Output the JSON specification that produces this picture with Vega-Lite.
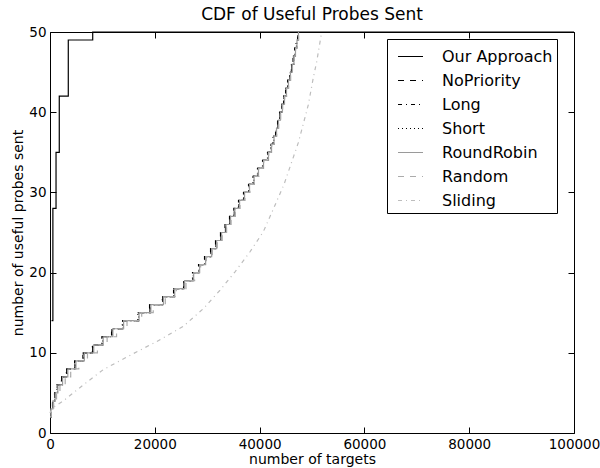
{
  "$schema": "https://vega.github.io/schema/vega-lite/v6.json",
  "width": 524,
  "height": 401,
  "autosize": {"type": "none"},
  "padding": {"left": 50, "top": 32, "right": 26, "bottom": 35},
  "background": "white",
  "title": {"text": "CDF of Useful Probes Sent", "fontSize": 17, "font": "DejaVu Sans", "fontWeight": "normal", "color": "black", "offset": 1, "anchor": "middle"},
  "config": {
    "view": {"stroke": "black", "strokeWidth": 1},
    "axis": {"domain": false, "grid": false, "tickColor": "black", "tickSize": -6, "tickWidth": 1, "labelPadding": 10, "labelFont": "DejaVu Sans", "labelFontSize": 13.5, "labelColor": "black", "titleFont": "DejaVu Sans", "titleFontSize": 14, "titleFontWeight": "normal", "titleColor": "black", "labelFlush": false, "labelOverlap": false, "labelBound": false},
    "legend": {"orient": "none", "legendX": 337, "legendY": 7, "fillColor": "white", "strokeColor": "black", "padding": 4, "cornerRadius": 0, "symbolType": "stroke", "symbolSize": 625, "symbolStrokeWidth": 1.2, "labelFont": "DejaVu Sans", "labelFontSize": 16, "labelColor": "black", "rowPadding": 2, "labelOffset": 18, "symbolOffset": 6, "labelLimit": 300}
  },
  "datasets": {
    "cluster": [
      {"level": 2, "NoPriority": 0, "Long": 0, "Short": 0, "RoundRobin": 0, "Random": 0},
      {"level": 3, "NoPriority": 190, "Long": 190, "Short": 190, "RoundRobin": 190, "Random": 250},
      {"level": 4, "NoPriority": 515, "Long": 480, "Short": 540, "RoundRobin": 560, "Random": 700},
      {"level": 5, "NoPriority": 900, "Long": 870, "Short": 930, "RoundRobin": 980, "Random": 1250},
      {"level": 6, "NoPriority": 1390, "Long": 1350, "Short": 1430, "RoundRobin": 1500, "Random": 1900},
      {"level": 7, "NoPriority": 2230, "Long": 2180, "Short": 2280, "RoundRobin": 2400, "Random": 2900},
      {"level": 8, "NoPriority": 3190, "Long": 3120, "Short": 3250, "RoundRobin": 3400, "Random": 3950},
      {"level": 9, "NoPriority": 4770, "Long": 4700, "Short": 4830, "RoundRobin": 4950, "Random": 5500},
      {"level": 10, "NoPriority": 6350, "Long": 6280, "Short": 6420, "RoundRobin": 6550, "Random": 7150},
      {"level": 11, "NoPriority": 8150, "Long": 8080, "Short": 8220, "RoundRobin": 8350, "Random": 9050},
      {"level": 12, "NoPriority": 9980, "Long": 9900, "Short": 10050, "RoundRobin": 10150, "Random": 10900},
      {"level": 13, "NoPriority": 11830, "Long": 11750, "Short": 11900, "RoundRobin": 12000, "Random": 12700},
      {"level": 14, "NoPriority": 13870, "Long": 13800, "Short": 13950, "RoundRobin": 14050, "Random": 14700},
      {"level": 15, "NoPriority": 16850, "Long": 16780, "Short": 16920, "RoundRobin": 17000, "Random": 17500},
      {"level": 16, "NoPriority": 19080, "Long": 19000, "Short": 19150, "RoundRobin": 19250, "Random": 19700},
      {"level": 17, "NoPriority": 21510, "Long": 21430, "Short": 21580, "RoundRobin": 21650, "Random": 22000},
      {"level": 18, "NoPriority": 23660, "Long": 23580, "Short": 23730, "RoundRobin": 23800, "Random": 24100},
      {"level": 19, "NoPriority": 25570, "Long": 25490, "Short": 25640, "RoundRobin": 25700, "Random": 25950},
      {"level": 20, "NoPriority": 27290, "Long": 27200, "Short": 27360, "RoundRobin": 27420, "Random": 27600},
      {"level": 21, "NoPriority": 28440, "Long": 28350, "Short": 28510, "RoundRobin": 28560, "Random": 28750},
      {"level": 22, "NoPriority": 29580, "Long": 29490, "Short": 29650, "RoundRobin": 29700, "Random": 29850},
      {"level": 23, "NoPriority": 30730, "Long": 30640, "Short": 30800, "RoundRobin": 30850, "Random": 30980},
      {"level": 24, "NoPriority": 31680, "Long": 31590, "Short": 31750, "RoundRobin": 31800, "Random": 31920},
      {"level": 25, "NoPriority": 32630, "Long": 32540, "Short": 32700, "RoundRobin": 32750, "Random": 32860},
      {"level": 26, "NoPriority": 33490, "Long": 33400, "Short": 33560, "RoundRobin": 33600, "Random": 33700},
      {"level": 27, "NoPriority": 34350, "Long": 34260, "Short": 34420, "RoundRobin": 34460, "Random": 34550},
      {"level": 28, "NoPriority": 35170, "Long": 35080, "Short": 35240, "RoundRobin": 35280, "Random": 35370},
      {"level": 29, "NoPriority": 36070, "Long": 35980, "Short": 36140, "RoundRobin": 36180, "Random": 36260},
      {"level": 30, "NoPriority": 37020, "Long": 36930, "Short": 37090, "RoundRobin": 37130, "Random": 37200},
      {"level": 31, "NoPriority": 37980, "Long": 37890, "Short": 38050, "RoundRobin": 38080, "Random": 38150},
      {"level": 32, "NoPriority": 38840, "Long": 38750, "Short": 38910, "RoundRobin": 38940, "Random": 39000},
      {"level": 33, "NoPriority": 39690, "Long": 39600, "Short": 39760, "RoundRobin": 39790, "Random": 39850},
      {"level": 34, "NoPriority": 40650, "Long": 40560, "Short": 40720, "RoundRobin": 40750, "Random": 40800},
      {"level": 35, "NoPriority": 41600, "Long": 41510, "Short": 41670, "RoundRobin": 41700, "Random": 41750},
      {"level": 36, "NoPriority": 42180, "Long": 42100, "Short": 42250, "RoundRobin": 42280, "Random": 42320},
      {"level": 37, "NoPriority": 42650, "Long": 42570, "Short": 42720, "RoundRobin": 42750, "Random": 42790},
      {"level": 38, "NoPriority": 43130, "Long": 43050, "Short": 43200, "RoundRobin": 43230, "Random": 43260},
      {"level": 39, "NoPriority": 43510, "Long": 43430, "Short": 43580, "RoundRobin": 43600, "Random": 43640},
      {"level": 40, "NoPriority": 43890, "Long": 43810, "Short": 43960, "RoundRobin": 43980, "Random": 44020},
      {"level": 41, "NoPriority": 44270, "Long": 44190, "Short": 44340, "RoundRobin": 44360, "Random": 44400},
      {"level": 42, "NoPriority": 44660, "Long": 44580, "Short": 44730, "RoundRobin": 44750, "Random": 44780},
      {"level": 43, "NoPriority": 45040, "Long": 44960, "Short": 45110, "RoundRobin": 45130, "Random": 45160},
      {"level": 44, "NoPriority": 45420, "Long": 45340, "Short": 45490, "RoundRobin": 45510, "Random": 45540},
      {"level": 45, "NoPriority": 45800, "Long": 45720, "Short": 45870, "RoundRobin": 45890, "Random": 45920},
      {"level": 46, "NoPriority": 46150, "Long": 46070, "Short": 46220, "RoundRobin": 46240, "Random": 46270},
      {"level": 47, "NoPriority": 46470, "Long": 46390, "Short": 46540, "RoundRobin": 46560, "Random": 46590},
      {"level": 48, "NoPriority": 46760, "Long": 46680, "Short": 46830, "RoundRobin": 46850, "Random": 46880},
      {"level": 49, "NoPriority": 47040, "Long": 46960, "Short": 47110, "RoundRobin": 47130, "Random": 47160},
      {"level": 50, "NoPriority": 47330, "Long": 47250, "Short": 47400, "RoundRobin": 47420, "Random": 47450}
    ],
    "ours": [
      {"series": "Our Approach", "targets": 300, "level": 14},
      {"series": "Our Approach", "targets": 550, "level": 28},
      {"series": "Our Approach", "targets": 1150, "level": 35},
      {"series": "Our Approach", "targets": 1770, "level": 42},
      {"series": "Our Approach", "targets": 3490, "level": 49},
      {"series": "Our Approach", "targets": 8150, "level": 50},
      {"series": "Our Approach", "targets": 100000, "level": 50}
    ],
    "sliding": [
      {"series": "Sliding", "targets": 0, "level": 2.5},
      {"series": "Sliding", "targets": 380, "level": 3.1},
      {"series": "Sliding", "targets": 2540, "level": 4.0},
      {"series": "Sliding", "targets": 6350, "level": 6.0},
      {"series": "Sliding", "targets": 10170, "level": 7.9},
      {"series": "Sliding", "targets": 15900, "level": 9.9},
      {"series": "Sliding", "targets": 20360, "level": 11.4},
      {"series": "Sliding", "targets": 25440, "level": 13.3},
      {"series": "Sliding", "targets": 29260, "level": 15.5},
      {"series": "Sliding", "targets": 32440, "level": 17.8},
      {"series": "Sliding", "targets": 35310, "level": 20.1},
      {"series": "Sliding", "targets": 38170, "level": 22.6},
      {"series": "Sliding", "targets": 40710, "level": 25.1},
      {"series": "Sliding", "targets": 42940, "level": 28.4},
      {"series": "Sliding", "targets": 44660, "level": 31.0},
      {"series": "Sliding", "targets": 47390, "level": 36.2},
      {"series": "Sliding", "targets": 49290, "level": 40.9},
      {"series": "Sliding", "targets": 50250, "level": 44.3},
      {"series": "Sliding", "targets": 50900, "level": 46.3},
      {"series": "Sliding", "targets": 51850, "level": 50}
    ]
  },
  "layer": [
    {
      "data": {"name": "ours"},
      "mark": {"type": "line", "interpolate": "step-after", "strokeWidth": 1.2},
      "encoding": {
        "x": {"field": "targets", "type": "quantitative", "scale": {"domain": [0, 100000], "nice": false, "zero": false}, "axis": {"orient": "bottom", "values": [0, 20000, 40000, 60000, 80000, 100000], "format": "d", "title": "number of targets", "titlePadding": 2}},
        "y": {"field": "level", "type": "quantitative", "scale": {"domain": [0, 50], "nice": false}, "axis": {"orient": "left", "values": [0, 10, 20, 30, 40, 50], "title": "number of useful probes sent", "titlePadding": 3}},
        "color": {"field": "series", "type": "nominal", "scale": {"domain": ["Our Approach", "NoPriority", "Long", "Short", "RoundRobin", "Random", "Sliding"], "range": ["#000000", "#000000", "#000000", "#000000", "#9a9a9a", "#ababab", "#bdbdbd"]}, "legend": {"title": null}},
        "strokeDash": {"field": "series", "type": "nominal", "scale": {"domain": ["Our Approach", "NoPriority", "Long", "Short", "RoundRobin", "Random", "Sliding"], "range": [[1, 0], [6, 6], [4, 4, 1, 4], [1, 3], [1, 0], [6, 6], [4, 4, 1, 4]]}, "legend": {"title": null}}
      }
    },
    {
      "data": {"name": "cluster"},
      "transform": [{"fold": ["NoPriority", "Long", "Short"], "as": ["series", "targets"]}],
      "mark": {"type": "line", "interpolate": "step-after", "strokeWidth": 1.2},
      "encoding": {
        "x": {"field": "targets", "type": "quantitative", "axis": {"orient": "top", "values": [0, 20000, 40000, 60000, 80000, 100000], "labels": false, "title": null}},
        "y": {"field": "level", "type": "quantitative", "axis": {"orient": "right", "values": [0, 10, 20, 30, 40, 50], "labels": false, "title": null}},
        "color": {"field": "series", "type": "nominal", "legend": {"title": null}},
        "strokeDash": {"field": "series", "type": "nominal", "legend": {"title": null}}
      }
    },
    {
      "data": {"name": "cluster"},
      "transform": [{"fold": ["RoundRobin", "Random"], "as": ["series", "targets"]}],
      "mark": {"type": "line", "interpolate": "step-after", "strokeWidth": 1.2},
      "encoding": {
        "x": {"field": "targets", "type": "quantitative", "axis": null},
        "y": {"field": "level", "type": "quantitative", "axis": null},
        "color": {"field": "series", "type": "nominal", "legend": {"title": null}},
        "strokeDash": {"field": "series", "type": "nominal", "legend": {"title": null}}
      }
    },
    {
      "data": {"name": "sliding"},
      "mark": {"type": "line", "strokeWidth": 1.2},
      "encoding": {
        "x": {"field": "targets", "type": "quantitative", "axis": null},
        "y": {"field": "level", "type": "quantitative", "axis": null},
        "color": {"field": "series", "type": "nominal", "legend": {"title": null}},
        "strokeDash": {"field": "series", "type": "nominal", "legend": {"title": null}}
      }
    }
  ],
  "resolve": {"axis": {"x": "independent", "y": "independent"}}
}
